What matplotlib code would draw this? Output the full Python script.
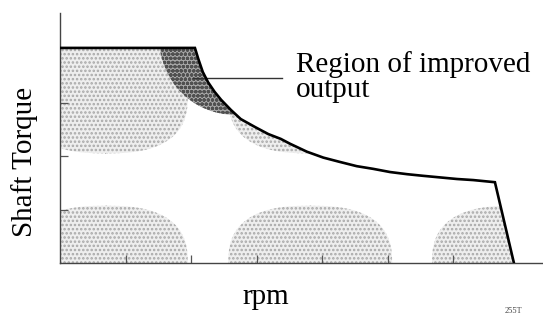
import numpy as np
import matplotlib.pyplot as plt
from matplotlib.patches import Polygon, Ellipse

# torque-speed envelope (speed in tick units, torque in tick units)
speed = [0, 2.06, 2.11, 2.18, 2.26, 2.36, 2.46, 2.61, 2.76, 2.98, 3.18, 3.37,
         3.51, 3.77, 4.02, 4.27, 4.53, 4.78, 5.04, 5.30, 5.54, 5.80, 6.06, 6.31,
         6.64, 6.93]
torque = [4.02, 4.02, 3.82, 3.57, 3.38, 3.20, 3.05, 2.86, 2.69, 2.54, 2.41, 2.32,
          2.23, 2.08, 1.97, 1.89, 1.81, 1.76, 1.70, 1.66, 1.63, 1.60, 1.57, 1.55,
          1.51, 0]

# stippled operating islands: centre speed, centre torque
island_x = [0.70, 3.82, 0.70, 3.82, 6.93]
island_y = [3.12, 3.12, 0.0, 0.0, 0.0]
island_w = 1.25
island_h = 1.07

# region of improved output (dark stipple)
improved_x = 2.67
improved_y = 4.17
improved_w = 1.15
improved_h = 1.40

x_ticks = [1, 2, 3, 4, 5, 6]
y_ticks = [1, 2, 3]

label_text = ["Region of improved", "output"]

plt.rcParams['font.family'] = ['Liberation Serif', 'DejaVu Serif']
plt.rcParams['hatch.linewidth'] = 1.2


def superellipse(cx, cy, a, b, n=2.6, num=240):
    t = np.linspace(0, 2 * np.pi, num)
    c, s = np.cos(t), np.sin(t)
    x = cx + a * np.sign(c) * np.abs(c) ** (2 / n)
    y = cy + b * np.sign(s) * np.abs(s) ** (2 / n)
    return np.column_stack([x, y])


fig = plt.figure(figsize=(5.43, 3.14), dpi=100)
ax = fig.add_axes([60 / 543, 51 / 314, 483 / 543, 250 / 314])
ax.set_xlim(0, 483 / 65.5)
ax.set_ylim(0, 250 / 53.5)

# area under the envelope, used to clip the islands
env = Polygon(list(zip(speed, torque)) + [(0, 0)], closed=True,
              facecolor='none', edgecolor='none', transform=ax.transData)
ax.add_patch(env)

for cx, cy in zip(island_x, island_y):
    p = Polygon(superellipse(cx, cy, island_w, island_h), closed=True,
                facecolor='#eeeeee', edgecolor='#a8a8a8', hatch='....',
                linewidth=0, zorder=1)
    ax.add_patch(p)
    p.set_clip_path(env)

dark = Ellipse((improved_x, improved_y), 2 * improved_w, 2 * improved_h,
               facecolor='#a8a8a8', edgecolor='#505050', hatch='oooo',
               linewidth=0, zorder=2)
ax.add_patch(dark)
dark.set_clip_path(env)

ax.plot(speed, torque, color='black', lw=1.9, zorder=4, solid_joinstyle='miter')

# leader line and label
ax.plot([2.03, 3.39], [3.46, 3.46], color='#333333', lw=1.0, zorder=3)
ax.text(3.60, 3.57, label_text[0], fontsize=21, va='baseline', ha='left')
ax.text(3.60, 3.10, label_text[1], fontsize=21, va='baseline', ha='left')

for sp in ['top', 'right']:
    ax.spines[sp].set_visible(False)
for sp in ['left', 'bottom']:
    ax.spines[sp].set_color('#444444')
    ax.spines[sp].set_linewidth(1.0)

ax.set_xticks(x_ticks)
ax.set_yticks(y_ticks)
ax.tick_params(direction='in', length=6, width=0.9, color='#555555',
               labelbottom=False, labelleft=False)

ax.set_xlabel('rpm', fontsize=21)
ax.set_ylabel('Shaft Torque', fontsize=21)
ax.xaxis.set_label_coords(0.427, -0.085)
ax.yaxis.set_label_coords(-0.045, 0.404)

fig.text(0.93, 0.002, '255T', fontsize=6, color='#444444')

fig.savefig('out.png', dpi=100)
